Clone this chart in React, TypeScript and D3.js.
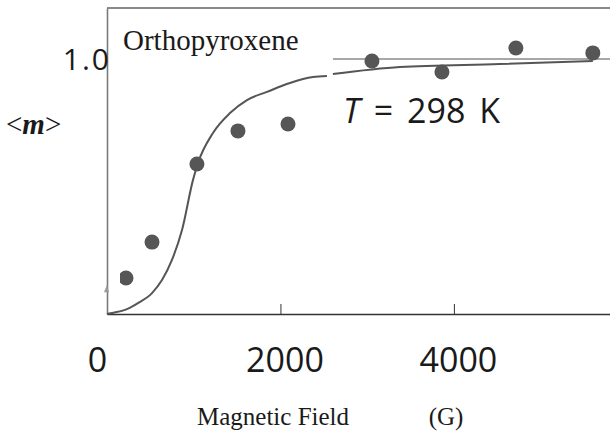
import React, { Component } from "react";
import * as d3 from "d3";

// measured points (field in gauss, mean moment)
const fieldG = [219, 519, 1037, 1510, 2087, 3055, 3862, 4715, 5602];
const moment = [0.141, 0.282, 0.588, 0.718, 0.745, 0.992, 0.949, 1.043, 1.024];

// fitted curve, drawn in two pieces as in the original
const curveG1 = [0, 58, 207, 357, 519, 634, 749, 865, 991, 1049, 1222, 1418, 1614, 1844, 2110, 2375, 2536];
const curveM1 = [0, 0.004, 0.016, 0.043, 0.082, 0.133, 0.212, 0.329, 0.525, 0.592, 0.71, 0.788, 0.839, 0.871, 0.906, 0.929, 0.933];
const curveG2 = [2605, 3378, 4530, 5602];
const curveM2 = [0.941, 0.969, 0.98, 0.992];

const xTicks = [0, 2000, 4000];
const yTicks = [1.0];
const refLineG = [2605, 5800]; // m = 1 guide line

class App extends Component {
  svgRef = React.createRef<SVGSVGElement>();

  componentDidMount() {
    const width = 610;
    const height = 435;
    const svg = d3.select(this.svgRef.current).attr("width", width).attr("height", height);
    svg.selectAll("*").remove();

    const xScale = d3.scaleLinear().domain([0, 5800]).range([107, 610]);
    const yScale = d3.scaleLinear().domain([0, 1.2]).range([314, 8]);
    const sans = "'Open Sans', sans-serif";
    const serif = "'Liberation Serif', 'Times New Roman', serif";

    // frame: top border
    svg.append("line")
      .attr("x1", xScale(0)).attr("x2", xScale(5800))
      .attr("y1", yScale(1.2)).attr("y2", yScale(1.2))
      .attr("stroke", "#8a8a8a").attr("stroke-width", 2);

    // y axis
    const yAxis = d3.axisLeft(yScale).tickValues(yTicks).tickSize(0).tickFormat(d3.format(".1f"));
    const gy = svg.append("g").attr("transform", `translate(${xScale(0)},0)`).call(yAxis);
    gy.select(".domain").attr("stroke", "#7a7a7a").attr("stroke-width", 1.6);
    gy.selectAll("text")
      .attr("x", 4).attr("dy", "0.36em")
      .style("font-family", sans).style("font-size", "30px").style("letter-spacing", "2px")
      .attr("fill", "#1a1a1a");

    // x axis
    const xAxis = d3.axisBottom(xScale).tickValues(xTicks).tickSizeInner(-10).tickSizeOuter(0).tickFormat(d3.format("d"));
    const gx = svg.append("g").attr("transform", `translate(0,${yScale(0)})`).call(xAxis);
    gx.select(".domain").attr("stroke", "#333").attr("stroke-width", 1.3);
    gx.selectAll(".tick line").attr("stroke", "#333").attr("stroke-width", 1);
    gx.selectAll(".tick").filter((d) => d === 0).select("line").remove();
    gx.selectAll("text")
      .attr("y", 58).attr("dy", 0).attr("dx", (d) => (d === 0 ? -10 : 4))
      .style("font-family", sans).style("font-size", "34px").attr("fill", "#1a1a1a");

    // m = 1.0 guide
    svg.append("line")
      .attr("x1", xScale(refLineG[0])).attr("x2", xScale(refLineG[1]))
      .attr("y1", yScale(1)).attr("y2", yScale(1))
      .attr("stroke", "#8a8a8a").attr("stroke-width", 1.4);

    // small grey arrow mark on the y axis
    const ax = xScale(0);
    svg.append("path")
      .attr("d", `M${ax - 3},${yScale(0.085)} L${ax},${yScale(0.115)} L${ax + 2},${yScale(0.085)} Z`)
      .attr("fill", "#9a9a9a");

    // curve
    const line = d3.line<[number, number]>().x((d) => xScale(d[0])).y((d) => yScale(d[1])).curve(d3.curveMonotoneX);
    [[curveG1, curveM1], [curveG2, curveM2]].forEach(([gs, ms]) => {
      svg.append("path")
        .datum(gs.map((g, i) => [g, ms[i]] as [number, number]))
        .attr("d", line)
        .attr("fill", "none").attr("stroke", "#555").attr("stroke-width", 2);
    });

    // points (first one is clipped on its left side in the source)
    svg.append("clipPath").attr("id", "ptclip")
      .append("rect").attr("x", xScale(150)).attr("y", 0).attr("width", width).attr("height", height);
    svg.append("g").attr("clip-path", "url(#ptclip)")
      .selectAll("circle").data(fieldG).join("circle")
      .attr("cx", (d) => xScale(d)).attr("cy", (d, i) => yScale(moment[i]))
      .attr("r", 7.5).attr("fill", "#565656");

    // labels
    svg.append("text").attr("x", 123).attr("y", 50)
      .style("font-family", serif).style("font-size", "29px").attr("fill", "#1a1a1a")
      .text("Orthopyroxene");

    const t = svg.append("text").attr("x", 343).attr("y", 123)
      .style("font-family", sans).style("font-size", "34px").style("word-spacing", "5px")
      .attr("fill", "#1a1a1a")
      .attr("xml:space", "preserve");
    t.append("tspan").style("font-style", "italic").text("T");
    t.append("tspan").text(" = 298 K");

    svg.append("text").attr("x", 6).attr("y", 134)
      .style("font-family", serif).style("font-size", "29px").attr("fill", "#1a1a1a")
      .html("&lt;<tspan font-style='italic' font-weight='bold'>m</tspan>&gt;");

    svg.append("text").attr("x", 197).attr("y", 425)
      .style("font-family", serif).style("font-size", "25px").attr("fill", "#1a1a1a")
      .text("Magnetic Field");
    svg.append("text").attr("x", 446).attr("y", 425).attr("text-anchor", "middle")
      .style("font-family", serif).style("font-size", "25px").attr("fill", "#1a1a1a")
      .text("(G)");
  }

  render() {
    return (
      <svg ref={this.svgRef} style={{ position: "absolute", left: 0, top: 0, background: "#fff" }} />
    );
  }
}

export default App;
